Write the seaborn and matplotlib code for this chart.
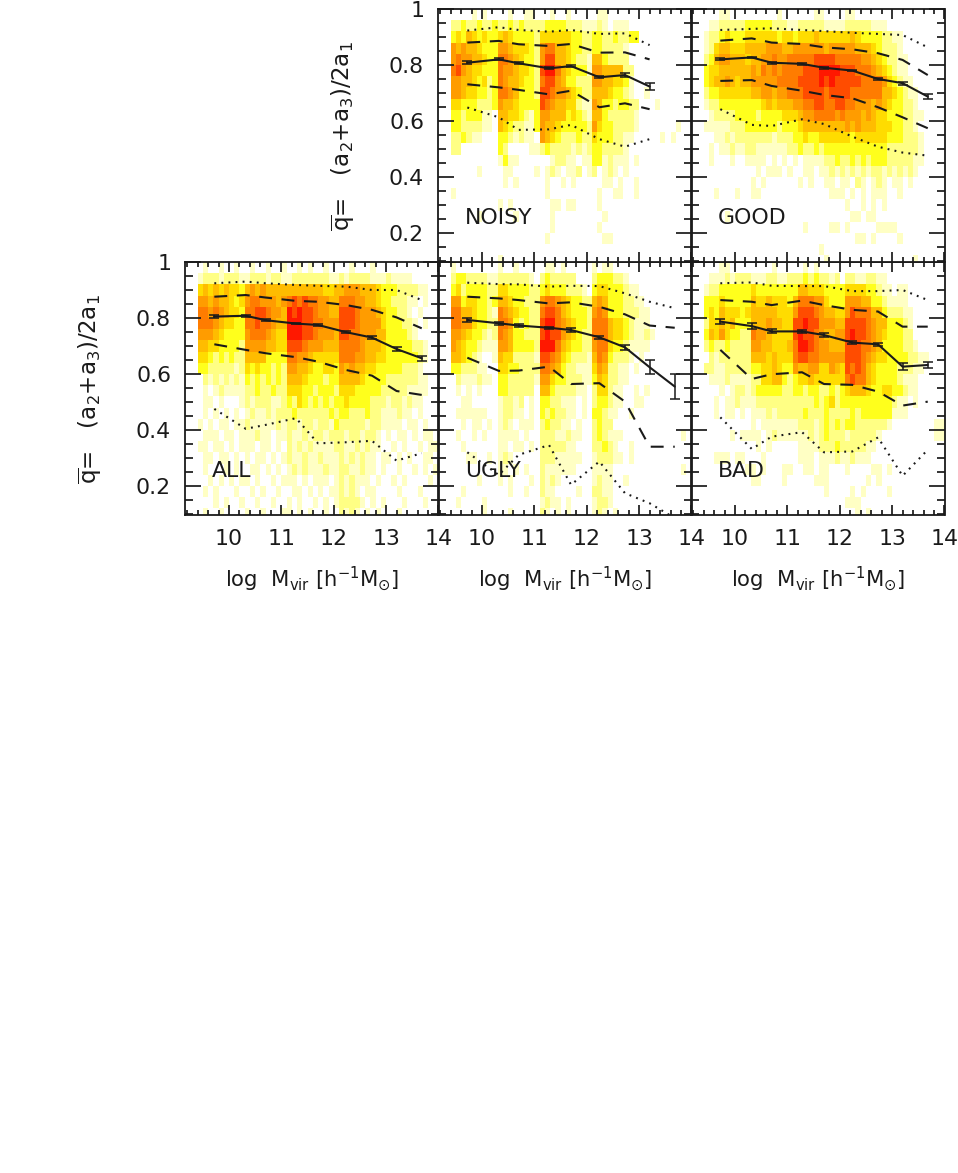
import numpy as np
import matplotlib
matplotlib.use("Agg")
import matplotlib.pyplot as plt
from matplotlib.colors import ListedColormap
from matplotlib.ticker import MultipleLocator, FixedLocator, FixedFormatter
import seaborn as sns

sns.set_theme(style="white")
plt.rcParams['font.family'] = ['DejaVu Sans']
plt.rcParams['mathtext.default'] = 'regular'

LEVEL_COLORS = ['#FFFFFF', '#FFFFC4', '#FFFF84', '#FFFF1C', '#FFDC00',
                '#FFBC00', '#FF9C00', '#FF7C00', '#FF4C00', '#FF1800']

X_COMMON = [9.72, 10.32, 10.7, 11.28, 11.7, 12.24, 12.73, 13.2, 13.68]

ALL_CELLS = [
"010010010 01001001 0010100100 0010001000 000000000",
"122212221 12221221 1222222211 2122221112 111100000",
"454545443 56565555 5555555445 5666555433 322221100",
"665655434 67766656 7878776655 7776655433 222110100",
"776765443 77887665 9898876655 8887666543 322101000",
"777654433 77877655 9998877666 8887666643 332210100",
"666543333 67776544 9998876665 8877666553 333210000",
"554433332 66665544 8887666555 7777655543 333322100",
"443232322 55553333 7766544444 7776655443 333332100",
"332222212 43433232 6655433443 6565544333 332221000",
"021212121 32323232 5554333233 5555433332 222221100",
"010121111 22322322 4443323332 4443333322 222111100",
"011010001 21222112 3243232323 3433332221 221211000",
"010101010 12112122 2322222232 3322232211 121101000",
"101011011 21111121 2212212213 2222212211 110110100",
"011101101 11211011 2112122122 2122122101 011010110",
"110110101 11011010 2121211112 2112121100 101001011",
"011011010 10110101 2112112111 2121211011 010100110",
"010001010 01101010 1212111211 2211211010 010010101",
"001010101 10100101 1101011101 2121110100 101000010",
"010100010 01010010 0110101011 2121011000 010001000",
"000101001 00100100 1010010101 2222101010 001000100",
"010010000 10010001 1010100100 2121010100 010000000",
]
UGLY_CELLS = [
"100000000 10010000 0110100000 1011000000 000000000",
"233222211 22222210 2322222000 2333221000 000000000",
"342333322 44333322 3433322210 3443332110 000000000",
"663443323 55433222 6776543322 5653332211 000000000",
"775543321 76543322 7887543332 6763332221 100000000",
"776643322 77632322 8997654332 7775443211 100000000",
"665433212 76533222 8988654322 7775443211 210000000",
"654332111 66533332 9997543322 6774332111 100000000",
"554321001 54422221 8876432221 5763222101 000000000",
"332221100 44332222 7765322111 4652211010 000000000",
"021112110 33222221 6643322211 3542211000 000000000",
"010101000 33222220 5532222110 2442110010 100000000",
"001100000 12212010 3322111010 2332110011 000000000",
"011111100 12211010 3232211010 3321100100 000000000",
"001011010 12101110 2322110100 2322000000 000000000",
"010010100 11110100 2221121100 2321110000 000000010",
"001000000 11011010 2222211000 2232100100 000000000",
"000110010 12100000 2221111100 1222110100 000000000",
"000000000 11010100 2111111000 1111000000 000000010",
"000001000 10100010 2121000000 1211001000 000000000",
"001000000 00100100 2110000100 2211000000 000000000",
"010000100 00000000 1211010000 1221000000 000000000",
"000000100 00100000 2101010000 1210100000 000000000",
]
BAD_CELLS = [
"000110000 00001000 0010100000 0000000000 000000000",
"011121222 11122112 2232322120 2211221100 000000000",
"122333333 43333333 3554443333 4444332110 110000000",
"333433333 54454443 5777664333 6665533211 110000000",
"343544434 55555444 6888765544 6877755322 211000000",
"244545333 55565544 8898866655 8888765533 321000000",
"354643322 76654444 8988765566 8988765433 322000000",
"232232222 66554445 7998766555 8887765333 322100000",
"021222222 55545444 7887766666 8887654433 332211000",
"221122222 33445433 6556644654 8787543333 222110000",
"011121111 22445532 3445444444 7877543333 211100000",
"000101221 23333322 3323322323 4555433443 321100000",
"001011211 12222222 2222323423 3333333332 110100000",
"001011010 11121222 2232223222 2323333331 110000000",
"000000000 10111111 1222123232 3322222210 000000011",
"000001011 11012111 1112123222 1222221000 000000011",
"000000000 01010000 0111122232 2222110000 000000000",
"001110110 00100000 0111011121 1211100000 000000000",
"000000001 10100011 0011011000 1000011010 000000000",
"000000000 11000010 0000111000 0000101000 000000000",
"000000000 00000000 0000001000 0101000010 000000000",
"000000000 00000000 0000000000 1110000000 000000000",
"000000000 00000000 0000000000 0010100000 000000000",
]
NOISY_CELLS = [
"000010100 00100110 0010010000 0110000000 000000000",
"223223223 22323222 2333322211 1210111000 000000000",
"343543433 45433332 4444443322 3322322330 000000000",
"656554333 66544432 6775543322 3322221000 000000000",
"676655433 77654332 6885543221 5532222000 000000000",
"786544333 76654432 8997543331 6655552200 000000000",
"665543423 76554332 7886533222 6655443100 000000000",
"665443323 77653332 8876654322 5554332100 100000000",
"443332223 65543333 8765544211 6533233220 001000000",
"332333110 55443213 6655534321 5532222210 000000000",
"332222110 54322113 6554333332 6433222210 000000100",
"223211000 33212110 6543222322 4333221100 000101000",
"220000000 32000011 2322221212 3322221000 000000000",
"000000000 13110000 0012211011 3312111010 000000000",
"000001000 01100001 0121011201 2012101000 000000000",
"000000000 01010000 0100101000 0011010010 000000000",
"100000000 00000000 0100000000 0100110010 000000000",
"000000000 10100000 0011011000 0100000000 000000000",
"000001000 00010000 0010000000 0010000000 000000000",
"000000000 00000000 0010000000 0100000000 000000000",
"000000000 00000000 0100000000 0011000000 000000000",
"000000000 00000000 0000000000 0000000000 000000000",
"000000000 10000000 0000000000 0000000000 000000000",
]
GOOD_CELLS = [
"000110000 00000100 0000110000 1100000000 000000000",
"011222223 33332221 1222221111 2222211100 000000000",
"122343334 44444344 3444544444 4543333221 100000000",
"124554445 55566655 6666665666 6655543222 100000000",
"235665554 55667667 7777888877 7776654322 110000000",
"344555555 65767677 7788899998 8877765432 110000000",
"345565455 66666777 7888898988 8887777643 211000000",
"233444444 55665667 7788887888 8777777554 321100000",
"122333333 33454555 6677887788 7766656543 322100000",
"012222333 32333344 4566777767 6665654433 322110000",
"111112223 33333233 3455555555 6565554443 322100000",
"001121222 22221222 3343344444 4344444433 322210000",
"010112112 21111112 2322323333 3333333322 222210000",
"010001001 11101010 1011112232 2323233322 222110000",
"000000000 01011101 0011011212 1212122121 212100000",
"000000000 10100000 0101001101 1021012101 101000000",
"001000100 11000000 0000000111 0101011100 100000000",
"000000000 00000000 0000000000 1001010100 000000000",
"000010000 00000000 0000000000 0110110000 000000000",
"000000000 00000000 0010000110 1000001111 000000000",
"000000000 00000000 0000000000 0011010000 100000000",
"000000000 00000000 0000010000 0000000000 000000000",
"000000000 00000000 0000001000 0000000000 000100000",
]

ALL_MEAN = [.805, .808, .792, .780, .775, .749, .730, .689, .656]
ALL_ERR = [.004, .004, .003, .003, .003, .003, .004, .006, .008]
ALL_P25 = [.876, .882, .873, .861, .858, .846, .829, .802, .763]
ALL_P75 = [.706, .686, .674, .660, .644, .614, .594, .539, .525]
ALL_P05 = [.924, .930, .924, .918, .915, .912, .900, .900, .864]
ALL_P95 = [.475, .404, .418, .442, .352, .356, .361, .290, .317]

UGLY_MEAN = [.793, .781, .773, .765, .757, .731, .695, .624, .555]
UGLY_ERR = [.006, .006, .005, .004, .006, .005, .010, .025, .045]
UGLY_P25 = [.876, .870, .864, .852, .856, .840, .813, .773, .765]
UGLY_P75 = [.658, .611, .612, .626, .564, .567, .501, .340, .340]
UGLY_P05 = [.926, .921, .920, .912, .915, .914, .888, .858, .835]
UGLY_P95 = [.320, .239, .311, .346, .204, .287, .174, .138, .085]

BAD_MEAN = [.787, .771, .752, .752, .739, .712, .706, .626, .632]
BAD_ERR = [.008, .012, .007, .006, .006, .006, .006, .012, .012]
BAD_P25 = [.864, .858, .846, .862, .846, .829, .823, .769, .769]
BAD_P75 = [.686, .582, .599, .606, .564, .561, .537, .487, .501]
BAD_P05 = [.924, .927, .915, .914, .914, .896, .896, .900, .864]
BAD_P95 = [.445, .332, .376, .392, .320, .323, .373, .236, .329]

NOISY_MEAN = [.808, .820, .806, .788, .796, .756, .764, .723]
NOISY_ERR = [.005, .004, .004, .004, .004, .004, .006, .013]
NOISY_P25 = [.880, .886, .874, .868, .875, .844, .845, .820]
NOISY_P75 = [.731, .720, .711, .695, .708, .649, .663, .642]
NOISY_P05 = [.923, .935, .925, .919, .925, .911, .913, .871]
NOISY_P95 = [.648, .613, .568, .570, .586, .535, .508, .535]

GOOD_MEAN = [.820, .827, .808, .804, .790, .780, .750, .735, .687]
GOOD_ERR = [.004, .003, .003, .003, .003, .003, .004, .005, .008]
GOOD_P25 = [.887, .895, .880, .875, .863, .856, .842, .818, .764]
GOOD_P75 = [.743, .746, .725, .708, .693, .681, .649, .613, .574]
GOOD_P05 = [.925, .929, .931, .925, .921, .915, .911, .907, .863]
GOOD_P95 = [.642, .586, .582, .606, .589, .544, .508, .487, .476]

PANELS = [
    ("ALL", ALL_CELLS, ALL_MEAN, ALL_ERR, ALL_P25, ALL_P75, ALL_P05, ALL_P95, 185, 262, True),
    ("UGLY", UGLY_CELLS, UGLY_MEAN, UGLY_ERR, UGLY_P25, UGLY_P75, UGLY_P05, UGLY_P95, 438, 262, False),
    ("BAD", BAD_CELLS, BAD_MEAN, BAD_ERR, BAD_P25, BAD_P75, BAD_P05, BAD_P95, 691, 262, False),
    ("NOISY", NOISY_CELLS, NOISY_MEAN, NOISY_ERR, NOISY_P25, NOISY_P75, NOISY_P05, NOISY_P95, 438, 9, True),
    ("GOOD", GOOD_CELLS, GOOD_MEAN, GOOD_ERR, GOOD_P25, GOOD_P75, GOOD_P05, GOOD_P95, 691, 9, False),
]

W, H = 958, 1173
XMIN, XMAX, YMIN, YMAX = 9.16, 14.0, 0.096, 1.0
CELL_X0, CELL_DX, CELL_DY = 9.4, 0.1, 0.04
FS = 15.8
cmap = ListedColormap(LEVEL_COLORS)
fig = plt.figure(figsize=(W / 100, H / 100), dpi=100, facecolor='white')


def grid(rows):
    rows = [r.replace(' ', '').ljust(46, '0')[:46] for r in rows]
    return np.array([[int(c) for c in r] for r in rows])


for name, cells, mean, err, p25, p75, p05, p95, left, top, show_y in PANELS:
    rect = [left / W, 1 - (top + 253) / H, 253.5 / W, 253 / H]
    bg = fig.add_axes(rect)
    sns.heatmap(grid(cells), ax=bg, cmap=cmap, vmin=-0.5, vmax=9.5, cbar=False,
                xticklabels=False, yticklabels=False, linewidths=0, rasterized=True)
    bg.set_xlim((XMIN - CELL_X0) / CELL_DX, (XMAX - CELL_X0) / CELL_DX)
    bg.set_ylim((YMAX - YMIN) / CELL_DY, 0)
    bg.set_axis_off()

    ax = fig.add_axes(rect, facecolor='none')
    x = X_COMMON[:len(mean)]
    sns.lineplot(x=x, y=mean, ax=ax, color='k', lw=1.5, estimator=None, sort=False)
    ax.errorbar(x, mean, yerr=err, fmt='none', ecolor='k', elinewidth=1.1,
                capsize=3.5, capthick=1.1)
    for vals in (p25, p75):
        sns.lineplot(x=x, y=vals, ax=ax, color='k', lw=1.5, estimator=None,
                     sort=False, linestyle=(0, (6.2, 4.6)))
    for vals in (p05, p95):
        sns.lineplot(x=x, y=vals, ax=ax, color='k', lw=1.5, estimator=None,
                     sort=False, linestyle=(0, (0.9, 2.5)))

    ax.set_xlim(XMIN, XMAX)
    ax.set_ylim(YMIN, YMAX)
    ax.xaxis.set_major_locator(FixedLocator([10, 11, 12, 13, 14]))
    ax.xaxis.set_minor_locator(MultipleLocator(0.2))
    ax.yaxis.set_major_locator(FixedLocator([0.2, 0.4, 0.6, 0.8, 1.0]))
    ax.yaxis.set_major_formatter(FixedFormatter(['0.2', '0.4', '0.6', '0.8', '1']))
    ax.yaxis.set_minor_locator(MultipleLocator(0.05))
    ax.tick_params(axis='x', which='major', direction='in', top=True, bottom=True,
                   length=7.5, width=1.25, pad=10, labelsize=FS, color='k', labelcolor='k',
                   labelbottom=(top == 262))
    ax.tick_params(axis='x', which='minor', direction='in', top=True, bottom=True,
                   length=3.8, width=1.25, color='k')
    ax.tick_params(axis='y', which='major', direction='in', left=True, right=True,
                   length=11.5, width=1.25, pad=10, labelsize=FS, color='k', labelcolor='k',
                   labelleft=show_y)
    ax.tick_params(axis='y', which='minor', direction='in', left=True, right=True,
                   length=5.8, width=1.25, color='k')
    for s in ax.spines.values():
        s.set_visible(True)
        s.set_color('k')
        s.set_linewidth(1.3)
    ax.set_xlabel('')
    ax.set_ylabel('')

    fig.text((left + 27) / W, 1 - (top + 215) / H, name, fontsize=FS, color='k',
             ha='left', va='baseline')
    if top == 262:
        fig.text((left + 127) / W, 1 - 579 / H,
                 r'log  M$_{\mathrm{vir}}$ [h$^{-1}$M$_{\odot}$]',
                 fontsize=15.2, color='k', ha='center', va='center')
    if show_y:
        fig.text((left - 95) / W, 1 - (top + 127) / H,
                 r'$\overline{\mathrm{q}}$=   (a$_2$+a$_3$)/2a$_1$',
                 fontsize=16.6, color='k', rotation=90, ha='center', va='center')

fig.savefig('out.png', dpi=100, facecolor='white')
